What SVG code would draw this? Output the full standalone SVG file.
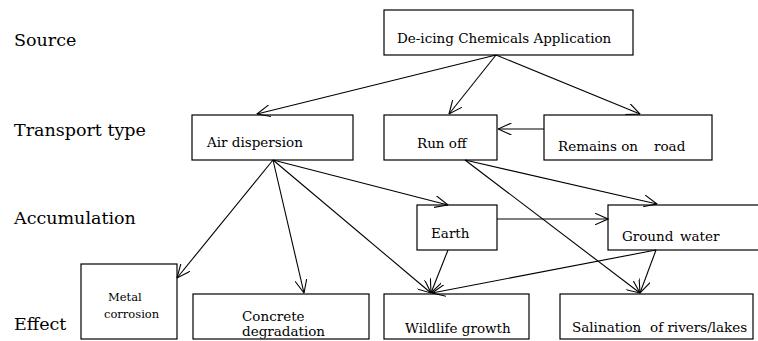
<svg xmlns="http://www.w3.org/2000/svg" width="758" height="341" viewBox="0 0 758 341">
<style>
text{fill:#000}
.lbl{font-size:17.5px}
.nt{font-size:13.5px}
.sm{font-size:11.5px}
.box{fill:none;stroke:#000;stroke-width:1.2}
.con{stroke:#000;stroke-width:1.1;fill:none;marker-end:url(#arr)}
</style>
<defs>
<marker id="arr" markerUnits="userSpaceOnUse" viewBox="0 0 14 12" refX="13.5" refY="6" markerWidth="14" markerHeight="12" orient="auto">
<path d="M0,0 L13.5,6 L0,12" fill="none" stroke="#000" stroke-width="1.1"/>
</marker>
<clipPath id="clipB"><rect x="0" y="0" width="758" height="338.5"/></clipPath>
</defs>
<rect width="758" height="341" fill="#fff"/>
<g id="labels">
<text class="lbl" font-family="DejaVu Serif" x="14" y="46">Source</text>
<text class="lbl" font-family="DejaVu Serif" x="14" y="136">Transport type</text>
<text class="lbl" font-family="DejaVu Serif" x="14" y="224">Accumulation</text>
<text class="lbl" font-family="DejaVu Serif" x="14" y="330">Effect</text>
</g>
<g id="connectors">
<line class="con" x1="496" y1="55" x2="257" y2="114"/>
<line class="con" x1="496" y1="55" x2="449" y2="114"/>
<line class="con" x1="496" y1="55" x2="640" y2="114"/>
<line class="con" x1="544" y1="129" x2="498" y2="129"/>
<line class="con" x1="273" y1="160" x2="177" y2="278"/>
<line class="con" x1="273" y1="160" x2="304" y2="293"/>
<line class="con" x1="273" y1="160" x2="431" y2="293"/>
<line class="con" x1="273" y1="160" x2="448" y2="205"/>
<line class="con" x1="465" y1="160" x2="657" y2="204"/>
<line class="con" x1="465" y1="160" x2="640" y2="293"/>
<line class="con" x1="497" y1="219" x2="608" y2="219"/>
<line class="con" x1="448" y1="250" x2="431" y2="293"/>
<line class="con" x1="656" y1="250" x2="432" y2="293"/>
<line class="con" x1="656" y1="250" x2="640" y2="293"/>
</g>
<g id="source">
<rect class="box" x="384" y="10" width="249" height="45"/>
<text class="nt" font-family="DejaVu Serif" x="397" y="43">De-icing Chemicals Application</text>
</g>
<g id="air">
<rect class="box" x="192" y="115" width="161" height="45"/>
<text class="nt" font-family="DejaVu Serif" x="207" y="147">Air dispersion</text>
</g>
<g id="runoff">
<rect class="box" x="384" y="115" width="113" height="45"/>
<text class="nt" font-family="DejaVu Serif" x="417" y="148">Run off</text>
</g>
<g id="remains">
<rect class="box" x="544" y="115" width="168" height="45"/>
<text class="nt" font-family="DejaVu Serif" x="558" y="151">Remains on</text>
<text class="nt" font-family="DejaVu Serif" x="654" y="151">road</text>
</g>
<g id="earth">
<rect class="box" x="417" y="205" width="80" height="45"/>
<text class="nt" font-family="DejaVu Serif" x="431" y="238">Earth</text>
</g>
<g id="groundwater">
<rect class="box" x="608" y="205" width="160" height="45"/>
<text class="nt" font-family="DejaVu Serif" x="622" y="241">Ground</text>
<text class="nt" font-family="DejaVu Serif" x="680" y="241">water</text>
</g>
<g id="metal">
<rect class="box" x="81" y="264" width="96" height="75"/>
<text class="sm" font-family="DejaVu Serif" x="108" y="301">Metal</text>
<text class="sm" font-family="DejaVu Serif" x="104" y="318">corrosion</text>
</g>
<g id="concrete">
<g clip-path="url(#clipB)">
<text class="nt" font-family="DejaVu Serif" x="242" y="321">Concrete</text>
<text class="nt" font-family="DejaVu Serif" x="242" y="336">degradation</text>
</g>
<rect class="box" x="193" y="294" width="176" height="45"/>
</g>
<g id="wildlife">
<g clip-path="url(#clipB)">
<text class="nt" font-family="DejaVu Serif" x="405" y="333">Wildlife growth</text>
</g>
<rect class="box" x="384" y="294" width="145" height="45"/>
</g>
<g id="salination">
<rect class="box" x="560" y="294" width="193" height="45"/>
<text class="nt" font-family="DejaVu Serif" x="572" y="332">Salination</text>
<text class="nt" font-family="DejaVu Serif" x="650" y="332">of rivers/lakes</text>
</g>
</svg>
